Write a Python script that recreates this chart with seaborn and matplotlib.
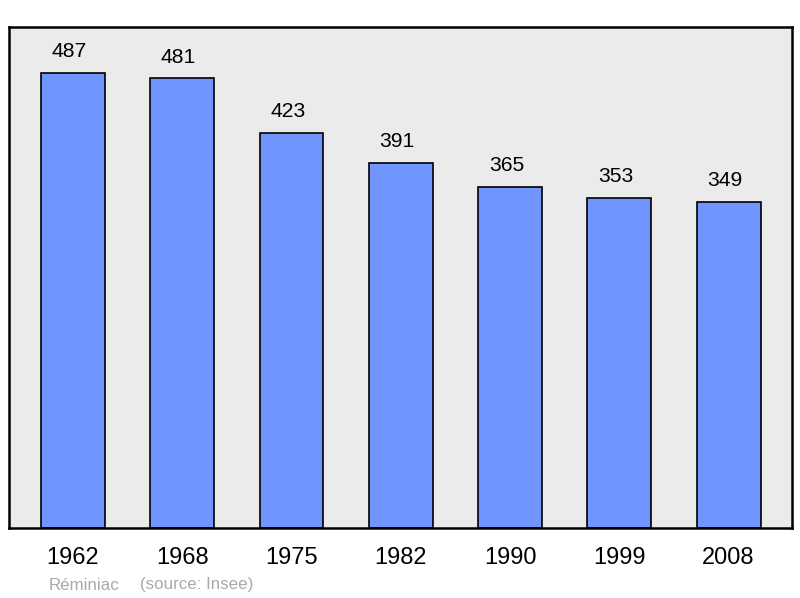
import matplotlib
matplotlib.use("Agg")
import matplotlib.pyplot as plt
import seaborn as sns
import pandas as pd

years = ["1962", "1968", "1975", "1982", "1990", "1999", "2008"]
population = [487, 481, 423, 391, 365, 353, 349]

sns.set_theme(style="white")
plt.rcParams['font.family'] = ['Liberation Sans', 'DejaVu Sans']

df = pd.DataFrame({"year": years, "pop": population})

fig = plt.figure(figsize=(8, 5.98), dpi=100)
ax = fig.add_axes([0.01125, 0.117, 0.97875, 0.8378])
ax.set_facecolor("#EBEBEB")

sns.barplot(data=df, x="year", y="pop", color="#7095FF", saturation=1,
            width=0.585, edgecolor="black", linewidth=1.2, ax=ax)

for i, v in enumerate(population):
    ax.annotate(str(v), (i, v), xytext=(-2.6, 15.3), textcoords="offset points",
                ha="center", va="center", fontsize=15.2, color="black")

ax.set_xlim(-0.585, 6.58)
ax.set_ylim(0, 536)
ax.set_xlabel("")
ax.set_ylabel("")
ax.set_yticks([])
ax.tick_params(axis="x", length=0, labelsize=17, pad=14, colors="black")
for s in ax.spines.values():
    s.set_visible(True)
    s.set_color("black")
    s.set_linewidth(1.8)

fig.text(49/800, 1 - 585/598, "Réminiac", fontsize=12.2,
         color="#AAAAAA", ha="left", va="center")
fig.text(140/800, 1 - 585/598, "(source: Insee)", fontsize=12.2,
         color="#AAAAAA", ha="left", va="center")

fig.savefig("out.png", dpi=100)
